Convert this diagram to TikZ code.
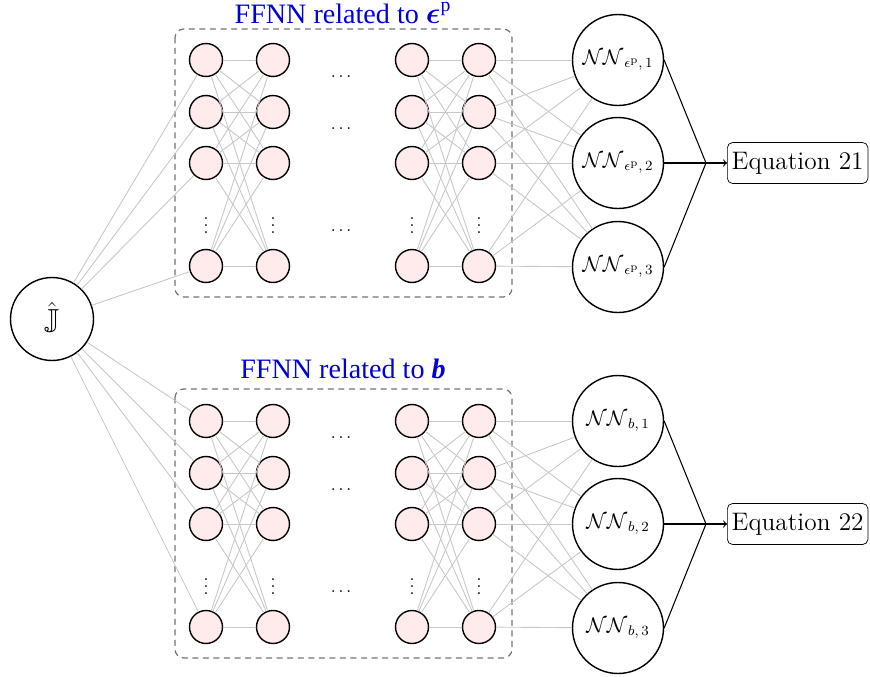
\documentclass[tikz,border=0pt]{standalone}
\usepackage{amsmath,amssymb,bm}
\usepackage{fontspec}
\newfontfamily\timesfont{Liberation Serif}
\begin{document}
\begin{tikzpicture}[line cap=round,line join=round,x=0.02cm,y=-0.02cm,
  neuron/.style={circle,draw,line width=0.8pt,fill=red!8,minimum size=0.66cm,inner sep=0pt},
  bignode/.style={circle,draw,line width=0.8pt,minimum size=1.82cm,inner sep=0pt,font=\large},
  conn/.style={black!22,line width=0.5pt},
  ffnnbox/.style={draw=black!55,dashed,rounded corners=5pt,line width=0.7pt},
  eqbox/.style={draw,rounded corners=3pt,font=\Large,minimum height=0.82cm,inner sep=2.5pt,anchor=west},
  title/.style={text=blue!85!black,font=\timesfont\fontsize{16}{19}\selectfont,anchor=base}]
\useasboundingbox (0,0) rectangle (870,677);
% dashed boxes and titles
\draw[ffnnbox] (175,29) rectangle (512,297);
\draw[ffnnbox] (175,389) rectangle (512,658);
\node[title] (ta) at (343,23) {FFNN related to $\bm{\epsilon}^{\text{p}}$};
\node[title] (tb) at (343,378) {FFNN related to \textbf{\textit{b}}};
% hidden layers
\foreach \l/\x in {1/206,2/273,3/412,4/479}{
  \foreach \r/\y in {1/60,2/112,3/163,4/266}{
    \node[neuron] (a\l\r) at (\x,\y) {};
    \node[neuron] (b\l\r) at (\x,\y+361) {};
  }
  \node[inner sep=0pt] (va\l) at (\x,220) {$\vdots$};
  \node[inner sep=0pt] (vb\l) at (\x,581) {$\vdots$};
}
\foreach \y [count=\i] in {77,129,231}{
  \node[anchor=base] (ha\i) at (341,\y) {$\ldots$};
  \node[anchor=base] (hb\i) at (341,\y+361) {$\ldots$};
}
% input
\node[circle,draw,line width=0.8pt,minimum size=1.66cm,font=\LARGE] (J) at (52,319) {$\hat{\mathbb{J}}$};
% outputs
\foreach \r/\y in {1/60,2/163,3/267}{
  \node[bignode] (na\r) at (618,\y) {$\mathcal{N}\mathcal{N}_{\;\epsilon^{\mathrm{p}},\,\r}$};
  \node[bignode] (nb\r) at (618,\y+361) {$\mathcal{N}\mathcal{N}_{\;b,\,\r}$};
}
\node[eqbox] (ea) at (727,163) {Equation 21};
\node[eqbox] (eb) at (727,524) {Equation 22};
% connections
\foreach \r in {1,...,4}{
  \draw[conn] (J) -- (a1\r);
  \draw[conn] (J) -- (b1\r);
  \foreach \s in {1,...,4}{
    \draw[conn] (a1\r) -- (a2\s);
    \draw[conn] (a3\r) -- (a4\s);
    \draw[conn] (b1\r) -- (b2\s);
    \draw[conn] (b3\r) -- (b4\s);
  }
  \foreach \s in {1,2,3}{
    \draw[conn] (a4\r) -- (na\s);
    \draw[conn] (b4\r) -- (nb\s);
  }
}
% merge to equations
\coordinate (ja) at (706,163);
\coordinate (jb) at (706,524);
\draw[line width=0.6pt] (na1.east) -- (ja) -- (na3.east);
\draw[line width=0.6pt,->] (na2.east) -- (ja) -- (ea);
\draw[line width=0.6pt] (nb1.east) -- (jb) -- (nb3.east);
\draw[line width=0.6pt,->] (nb2.east) -- (jb) -- (eb);
\end{tikzpicture}
\end{document}
